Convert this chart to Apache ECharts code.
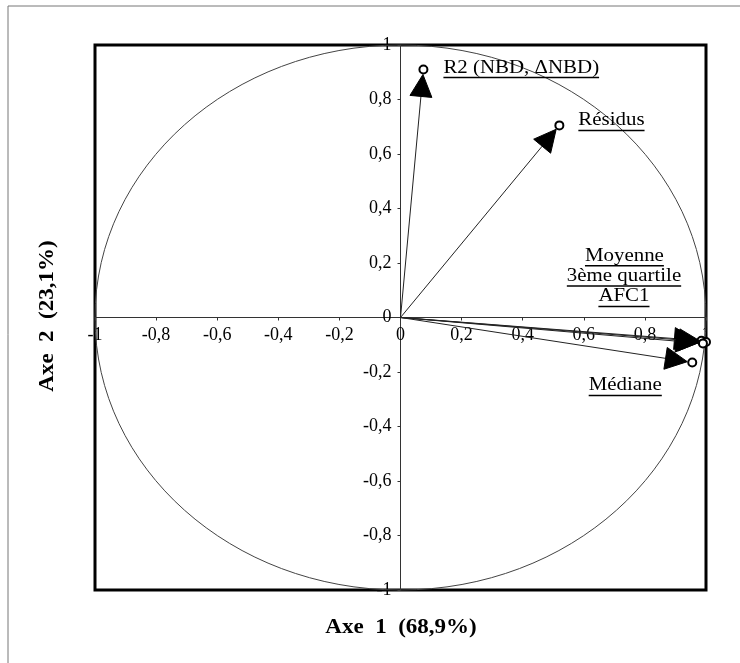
<!DOCTYPE html>
<html><head><meta charset="utf-8">
<script src="https://cdn.jsdelivr.net/npm/echarts@6/dist/echarts.min.js"></script>
<style>html,body{margin:0;padding:0;background:#fff}#c{width:740px;height:663px}</style>
</head><body><div id="c"></div>
<script>
// ---- data ----
const variableNames = ['R2 (NBD, ΔNBD)', 'Résidus', 'Moyenne', '3ème quartile', 'AFC1', 'Médiane'];
const axis1Values = [0.075, 0.52, 0.985, 1.0, 0.99, 0.955];
const axis2Values = [0.91, 0.705, -0.085, -0.09, -0.095, -0.165];
const tickValues = [-1, -0.8, -0.6, -0.4, -0.2, 0, 0.2, 0.4, 0.6, 0.8, 1];
const axis1Title = 'Axe\u00a0\u00a01\u00a0\u00a0(68,9%)';
const axis2Title = 'Axe\u00a0\u00a02\u00a0\u00a0(23,1%)';

// ---- layout / style (pixels) ----
const GRID = {left: 95, top: 45, width: 611, height: 545};
const labelLayout = [
  {dx: 20, dy: -2, align: 'left'},
  {dx: 19, dy: -5, align: 'left'},
  {dx: -77, dy: -85, align: 'center'},
  {dx: -82, dy: -66, align: 'center'},
  {dx: -79, dy: -47, align: 'center'},
  {dx: -67, dy: 23, align: 'center'}
];
const LABEL_FONT = '19px "Liberation Serif"';
const LABEL_SCALE = 1.1;
const TIP_GAP = 5, HEAD_LEN = 22, HEAD_HALF = 11, RING_R = 4;

const measureCtx = document.createElement('canvas').getContext('2d');
function textWidth(t, font) { measureCtx.font = font; return measureCtx.measureText(t).width; }
const fmt = v => (Math.round(v * 10) / 10).toString().replace('.', ',');

const chart = echarts.init(document.getElementById('c'), null, {renderer: 'canvas'});

function circleRender(params, api) {
  const c = api.coord([0, 0]);
  const e = api.coord([1, 1]);
  return {
    type: 'ellipse',
    shape: {cx: c[0], cy: c[1], rx: e[0] - c[0], ry: c[1] - e[1]},
    style: {fill: null, stroke: '#444', lineWidth: 1}
  };
}

function arrowRender(params, api) {
  const i = api.value(2);
  const p = api.coord([api.value(0), api.value(1)]);
  const o = api.coord([0, 0]);
  const dx = p[0] - o[0], dy = p[1] - o[1];
  const L = Math.hypot(dx, dy);
  const ux = dx / L, uy = dy / L, nx = -uy, ny = ux;
  const tip = [p[0] - ux * TIP_GAP, p[1] - uy * TIP_GAP];
  const base = [p[0] - ux * (TIP_GAP + HEAD_LEN), p[1] - uy * (TIP_GAP + HEAD_LEN)];
  const lay = labelLayout[i];
  const name = variableNames[i];
  const lx = p[0] + lay.dx, ly = p[1] + lay.dy;
  const w = textWidth(name, LABEL_FONT) * LABEL_SCALE;
  const x0 = lay.align === 'left' ? lx : lx - w / 2;
  return {
    type: 'group',
    children: [
      {type: 'line', shape: {x1: o[0], y1: o[1], x2: base[0], y2: base[1]},
       style: {stroke: '#222', lineWidth: 1}},
      {type: 'polygon', shape: {points: [tip,
        [base[0] + nx * HEAD_HALF, base[1] + ny * HEAD_HALF],
        [base[0] - nx * HEAD_HALF, base[1] - ny * HEAD_HALF]]},
       style: {fill: '#000', stroke: '#000', lineWidth: 1}},
      {type: 'circle', shape: {cx: p[0], cy: p[1], r: RING_R},
       style: {fill: '#fff', stroke: '#000', lineWidth: 2}},
      {type: 'text', x: lx, y: ly, scaleX: LABEL_SCALE,
       style: {text: name, font: LABEL_FONT, fill: '#000', align: lay.align, verticalAlign: 'middle',
               textAlign: lay.align, textVerticalAlign: 'middle'}},
      {type: 'line', shape: {x1: x0, y1: ly + 10, x2: x0 + w, y2: ly + 10},
       style: {stroke: '#000', lineWidth: 1.5}}
    ]
  };
}

function makeAxis(extra) {
  return Object.assign({
    type: 'value', min: tickValues[0], max: tickValues[tickValues.length - 1], interval: 0.2,
    axisLine: {show: true, onZero: false, lineStyle: {color: '#333', width: 1}},
    axisTick: {show: true, length: 3, lineStyle: {color: '#333'}},
    splitLine: {show: false},
    axisLabel: {show: true, showMinLabel: true, showMaxLabel: true, formatter: fmt,
                fontFamily: 'Liberation Serif', fontSize: 18, color: '#000', margin: 9}
  }, extra);
}

chart.setOption({
  animation: false,
  backgroundColor: '#fff',
  grid: Object.assign({show: true, borderColor: '#000', borderWidth: 3, backgroundColor: 'transparent'}, GRID),
  xAxis: makeAxis({position: 'bottom', offset: -GRID.height / 2}),
  yAxis: makeAxis({position: 'left', offset: -GRID.width / 2}),
  graphic: [
    {type: 'polyline', silent: true, shape: {points: [[8, 663], [8, 6], [740, 6]]},
     style: {stroke: '#777', lineWidth: 1, fill: null}},
    {type: 'text', x: 401, y: 628, scaleX: 1.15,
     style: {text: axis1Title, font: 'bold 20px "Liberation Serif"', fill: '#000',
             align: 'center', verticalAlign: 'middle', textAlign: 'center', textVerticalAlign: 'middle'}},
    {type: 'text', x: 48, y: 316, scaleX: 1.15, rotation: Math.PI / 2,
     style: {text: axis2Title, font: 'bold 20px "Liberation Serif"', fill: '#000',
             align: 'center', verticalAlign: 'middle', textAlign: 'center', textVerticalAlign: 'middle'}}
  ],
  series: [
    {type: 'custom', clip: false, silent: true, renderItem: circleRender, data: [[0, 0]], z: 1},
    {type: 'custom', clip: false, silent: true, renderItem: arrowRender, z: 3,
     data: variableNames.map((n, i) => [axis1Values[i], axis2Values[i], i])}
  ]
});
</script></body></html>
